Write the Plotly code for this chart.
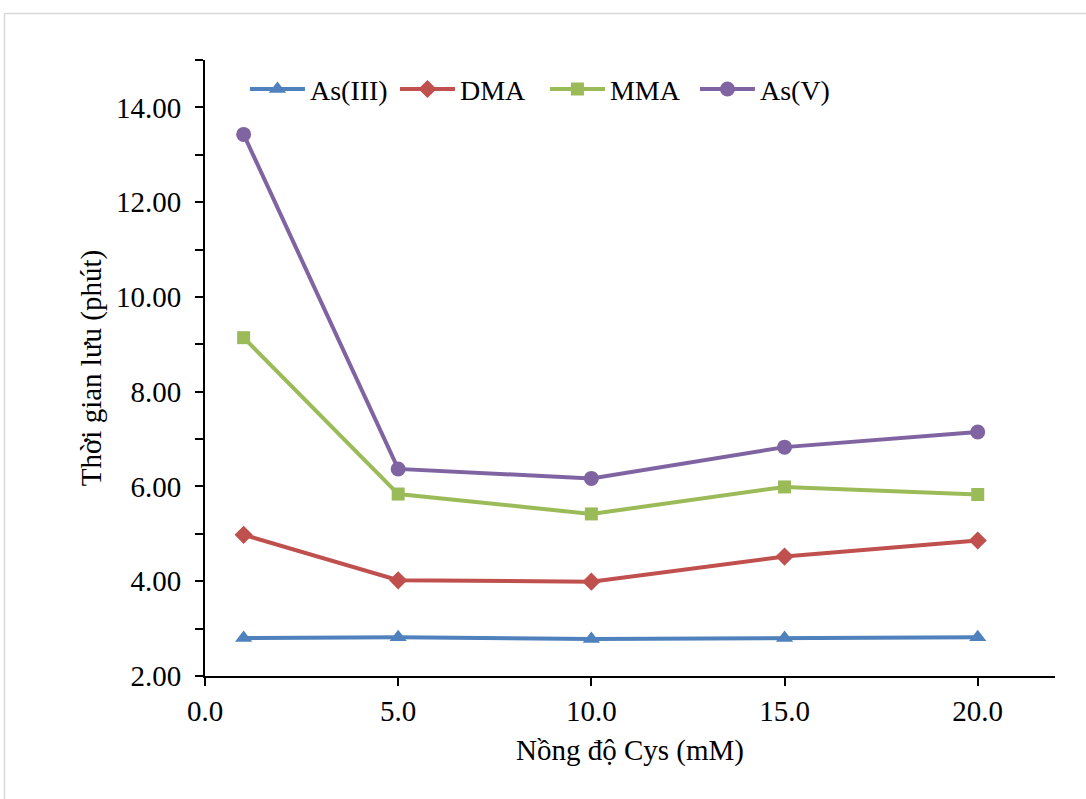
import plotly.graph_objects as go

x_vals = [1, 5, 10, 15, 20]
as3 = [2.80, 2.82, 2.78, 2.80, 2.82]
dma = [4.98, 4.02, 3.99, 4.52, 4.86]
mma = [9.14, 5.84, 5.42, 5.99, 5.83]
as5 = [13.43, 6.37, 6.17, 6.83, 7.15]

series_names = ["As(III)", "DMA", "MMA", "As(V)"]
series_vals = [as3, dma, mma, as5]
colors = ["#4F81BD", "#C0504D", "#9BBB59", "#8064A2"]
symbols = ["triangle-up", "diamond", "square", "circle"]
sizes = [15, 14, 13, 15]

FONT = "Liberation Serif"

fig = go.Figure()
for name, vals, c, s, sz in zip(series_names, series_vals, colors, symbols, sizes):
    fig.add_trace(go.Scatter(
        x=x_vals, y=vals, name=name, mode="lines+markers",
        line=dict(color=c, width=4),
        marker=dict(symbol=s, size=sz, color=c),
    ))

fig.update_layout(
    width=1086, height=799,
    margin=dict(l=205, r=31, t=60, b=123),
    paper_bgcolor="white", plot_bgcolor="white",
    font=dict(family=FONT, size=29, color="black"),
    showlegend=True,
    legend=dict(
        orientation="h", x=0.047, y=0.993, xanchor="left", yanchor="top",
        font=dict(size=28, family=FONT, color="black"), bgcolor="rgba(0,0,0,0)",
        itemwidth=55, entrywidth=80, entrywidthmode="pixels", tracegroupgap=0,
    ),
    shapes=[dict(type="rect", xref="paper", yref="paper",
                 x0=-0.2359, x1=1.041, y0=-0.21, y1=1.0755,
                 line=dict(color="#D9D9D9", width=1.5), layer="below")],
)

fig.update_xaxes(
    range=[0, 22], tickmode="array", tickvals=[0, 5, 10, 15, 20],
    ticktext=["0.0", "5.0", "10.0", "15.0", "20.0"],
    tickfont=dict(family=FONT, size=29, color="black"),
    showline=True, linecolor="black", linewidth=2,
    ticks="outside", ticklen=8, tickwidth=2, tickcolor="black",
    showgrid=False, zeroline=False,
    title=dict(text="Nồng độ Cys (mM)", font=dict(size=29, family=FONT, color="black"), standoff=14),
)
fig.update_yaxes(
    range=[2, 15], tickmode="array", tickvals=[2, 4, 6, 8, 10, 12, 14],
    ticktext=["2.00", "4.00", "6.00", "8.00", "10.00", "12.00", "14.00"],
    tickfont=dict(family=FONT, size=29, color="black"),
    ticklabelstandoff=8,
    showline=True, linecolor="black", linewidth=2,
    ticks="outside", ticklen=8, tickwidth=2, tickcolor="black",
    minor=dict(tickvals=[3, 5, 7, 9, 11, 13, 15], ticks="outside", ticklen=8, tickwidth=2, tickcolor="black"),
    showgrid=False, zeroline=False,
    title=dict(text="Thời gian lưu (phút)", font=dict(size=29, family=FONT, color="black"), standoff=6),
)

fig.write_html("out.html")
